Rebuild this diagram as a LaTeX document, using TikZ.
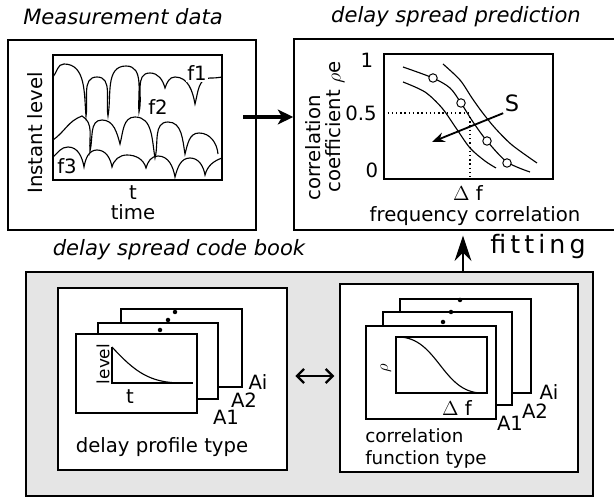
\documentclass[tikz,border=0pt]{standalone}
\usepackage{fontspec}
\setmainfont{DejaVu Sans}
\usepackage{tikz}
\usetikzlibrary{positioning,arrows.meta,fit}

\begin{document}
\begin{tikzpicture}[
    x=0.025cm, y=-0.025cm,
    panel/.style={draw, line width=1pt, inner sep=0pt},
    plotbox/.style={draw, line width=0.9pt, inner sep=0pt},
    card/.style={draw, fill=white, line width=0.9pt, inner sep=0pt},
    ttl/.style={font=\fontsize{15}{17}\selectfont\itshape, inner sep=0pt},
    lbl/.style={font=\fontsize{14}{15}\selectfont, inner sep=0pt},
    tiny/.style={font=\fontsize{12}{13}\selectfont, inner sep=0pt},
    curve/.style={line width=0.8pt},
    ring/.style={circle, draw, fill=white, line width=0.7pt, minimum size=6pt, inner sep=0pt},
    arrow/.style={-{Stealth[length=11pt,width=10.5pt,inset=3pt]}, line width=2.6pt}
  ]
\useasboundingbox (0,0) rectangle (614,498);
\clip (0,0) rectangle (614,498);

% measurement data
\node[ttl] (meastitle) at (123,17) {Measurement data};
\node[panel, fit={(8,40) (256,230)}] (meas) {};
\node[plotbox, fit={(53,55) (222,180)}] (measplot) {};
\node[lbl, rotate=90] (instlvl) at (35,133) {Instant level};
\node[lbl] (tlbl) at (133,193) {t};
\node[lbl] (timelbl) at (133,212) {time};
\draw[curve] (53,77) to[out=50,in=180] (64,64) to[out=0,in=95] (86,116)
  to[out=80,in=180] (97,77) to[out=0,in=100] (108,116)
  to[out=80,in=180] (126,66) to[out=0,in=95] (139,112)
  to[out=75,in=180] (150,73) to[out=0,in=105] (165,88)
  to[out=70,in=180] (175,77) to[out=0,in=100] (195,104)
  to[out=75,in=180] (210,78) to[out=0,in=190] (222,77);
\draw[curve] (53,140) to[out=35,in=200] (82,116) to[out=-30,in=95] (90,151)
  to[out=75,in=180] (102,120) to[out=0,in=105] (120,144)
  to[out=75,in=180] (135,117) to[out=0,in=100] (155,158)
  to[out=75,in=180] (168,122) to[out=0,in=100] (185,154)
  to[out=75,in=180] (199,133) to[out=0,in=95] (218,154);
\draw[curve] (53,157) to[out=40,in=180] (68,147) to[out=0,in=100] (84,167)
  to[out=80,in=180] (97,150) to[out=0,in=100] (112,167)
  to[out=75,in=180] (127,155) to[out=0,in=105] (146,168)
  to[out=75,in=180] (158,156) to[out=0,in=100] (175,177)
  to[out=75,in=180] (190,158) to[out=0,in=100] (205,175)
  to[out=75,in=200] (222,158);
\node[lbl, fill=white, inner sep=1pt] (fone) at (197,73) {f1};
\node[lbl] (ftwo) at (158,107) {f2};
\node[lbl] (fthree) at (67,166) {f3};

% prediction
\node[ttl] (predtitle) at (456,17) {delay spread prediction};
\node[panel, fit={(294,39) (630,230)}] (pred) {};
\node[plotbox, fit={(384,54) (553,179)}] (predplot) {};
\node[lbl, rotate=90] (corrlbl) at (313,148) {correlation};
\node[lbl, rotate=90] (coeflbl) at (335,127) {coefficient $\rho$e};
\node[lbl] (yone) at (367,60) {1};
\node[lbl] (yhalf) at (361,113) {0.5};
\node[lbl] (yzero) at (372,170) {0};
\node[lbl] (dflbl) at (468,193) {$\Delta$ f};
\node[lbl] (freqlbl) at (475,216) {frequency correlation};
\draw[dotted, line width=1pt] (predplot.west |- 0,113) -- (470,113);
\draw[dotted, line width=1pt] (470,117) -- (470,179);
\draw[curve] plot[smooth] coordinates {(403,82) (425,92) (442,108) (456,128) (470,148) (485,161) (496,168)};
\draw[curve] plot[smooth] coordinates {(403,67) (433,78) (450,88) (461,103) (473,122) (487,141) (507,162) (530,172)};
\draw[curve] plot[smooth] coordinates {(443,64) (460,80) (472,98) (482,112) (495,128) (512,145) (537,163)};
\node[ring] (pa) at (433,78) {};
\node[ring] (pb) at (461,103) {};
\node[ring] (pc) at (487,141) {};
\node[ring] (pd) at (507,163) {};
\node[font=\fontsize{16}{17}\selectfont, inner sep=1pt] (slbl) at (512,103) {S};
\coordinate (sfoot) at (432,142);
\draw[-{Stealth[length=9pt,width=7pt,inset=3pt]}, line width=1.3pt] (slbl.south west) -- (sfoot);

\draw[arrow] (243,117) coordinate (flowtail) -- (flowtail -| pred.west);

% code book
\node[ttl] (booktitle) at (179,250) {delay spread code book};
\node[panel, fill=black!10, fit={(26,272) (593,496)}] (book) {};
\node[panel, fill=white, fit={(58,288) (287,470)}] (prof) {};
\node[panel, fill=white, fit={(340,284) (578,472)}] (corr) {};

\node[font=\fontsize{18}{20}\selectfont\addfontfeature{LetterSpace=16}, inner sep=0pt] (fitlbl) at (538,247) {fitting};
\coordinate (fitbase) at (463,272);
\draw[-{Stealth[length=18pt,width=12pt,inset=6pt]}, line width=1.2pt, shorten >=3.5pt] (fitbase) -- (fitbase |- pred.south);

\draw[{Straight Barb[length=5pt,width=10pt]}-{Straight Barb[length=5pt,width=10pt]}, line width=1.6pt]
  ([xshift=5.5pt]prof.east |- 0,376) -- ([xshift=-3.5pt]corr.west |- 0,376);

% delay profile cards
\node[card, fit={(121,309) (242,387)}] (profi) {};
\node[card, fit={(98,323) (218,399)}] (proftwo) {};
\node[card, fit={(76,334) (197,413)}] (profone) {};
\foreach \p in {(160,330),(168,320),(175,312)}
  \fill \p circle (1.6pt);
\draw[line width=0.8pt] (112,347) -- (112,383) -- (193,383);
\draw[curve] (112,347) .. controls (135,372) and (150,383) .. (182,383);
\node[tiny, rotate=90] (lvllbl) at (103,364) {level};
\node[lbl] (proft) at (130,397) {t};
\node[lbl] (profai) at (258,382) {Ai};
\node[lbl] (profatwo) at (244,400) {A2};
\node[lbl] (profaone) at (226,417) {A1};
\node[lbl] (proflbl) at (162,447) {delay profile type};

% correlation function cards
\node[card, fit={(400,299) (531,393)}] (corri) {};
\node[card, fit={(383,312) (512,405)}] (corrtwo) {};
\node[card, fit={(366,326) (496,419)}] (corrone) {};
\foreach \p in {(443,322),(451,312),(460,300)}
  \fill \p circle (1.6pt);
\node[plotbox, fit={(396,337) (487,393)}] (corrplot) {};
\draw[curve] (398,337) .. controls (438,337) and (442,393) .. (482,393);
\node[tiny, rotate=90] (rholbl) at (386,368) {$\rho$};
\node[lbl] (corrdf) at (457,408) {$\Delta$ f};
\node[lbl] (corrai) at (549,392) {Ai};
\node[lbl] (corratwo) at (535,411) {A2};
\node[lbl] (corraone) at (510,423) {A1};
\node[font=\fontsize{13}{14}\selectfont, inner sep=0pt, anchor=base west] (corrtypeA) at (365,443) {correlation};
\node[font=\fontsize{13}{14}\selectfont, inner sep=0pt, anchor=base west] (corrtypeB) at (365,465) {function type};
\end{tikzpicture}
\end{document}
